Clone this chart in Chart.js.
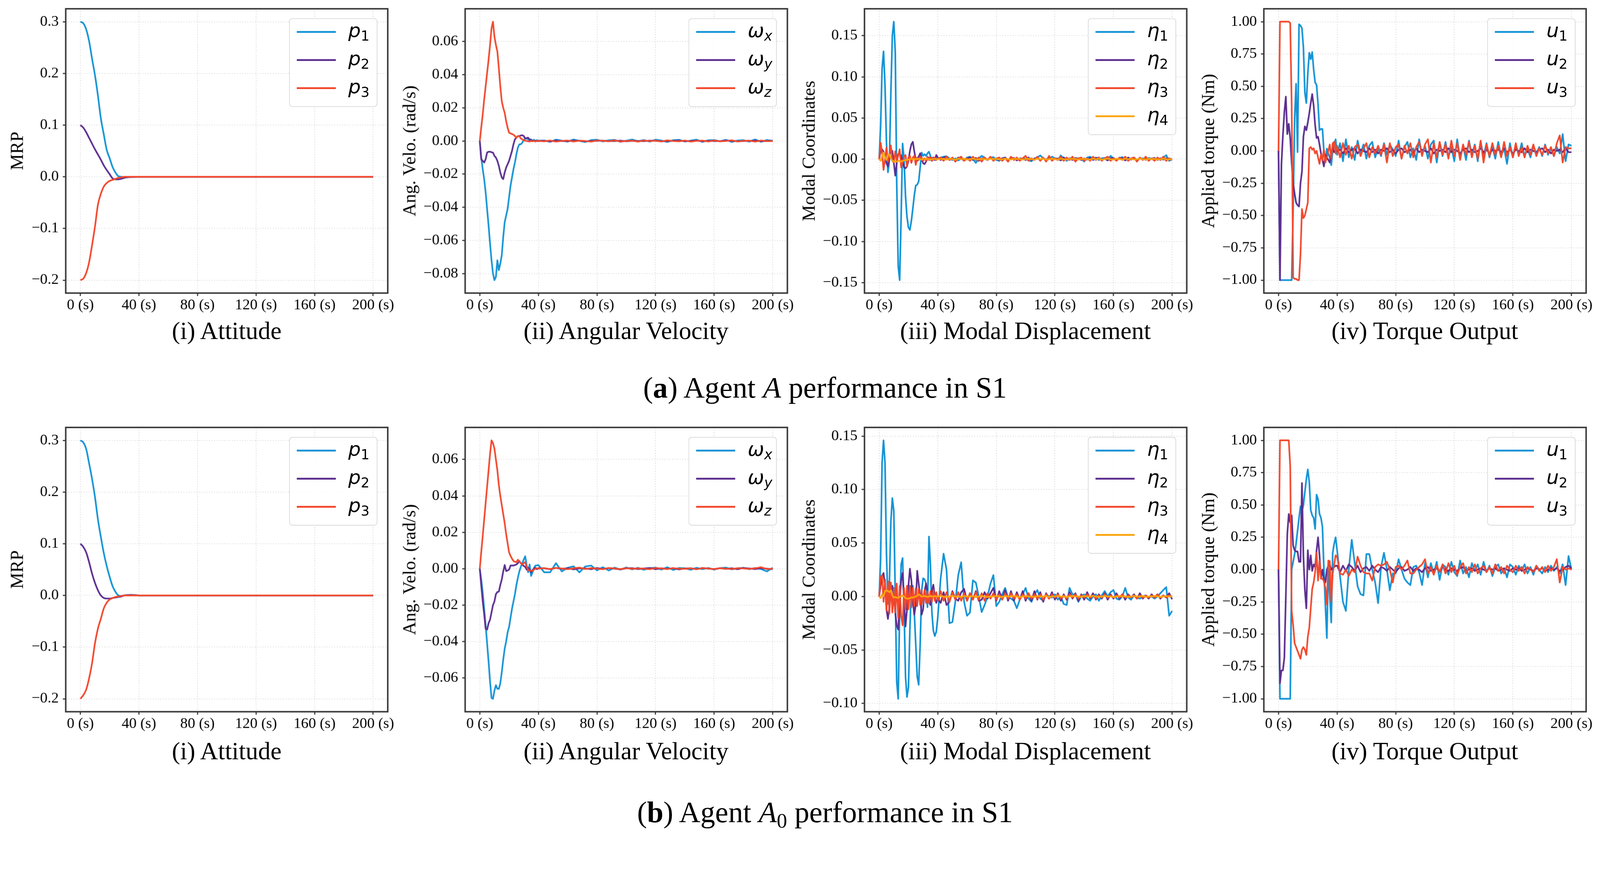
<!DOCTYPE html>
<html>
<head>
<meta charset="utf-8">
<script src="https://cdn.jsdelivr.net/npm/chart.js@4.4.0/dist/chart.umd.min.js"></script>
<style>
  html, body { margin: 0; background: #fff; overflow: hidden; }
  #wrap { position: relative; overflow: hidden; }
  #fig { position: absolute; left: 0; top: 0; width: 4383px; height: 2271px; overflow: hidden; font-family: 'Liberation Serif', serif; color: #000; transform-origin: 0 0; }
  #fig canvas { position: absolute; }
  .title { position: absolute; width: 1000px; text-align: center; font-size: 68px; line-height: 80px; white-space: nowrap; }
  .caption { position: absolute; width: 2000px; text-align: center; font-size: 81px; line-height: 98px; white-space: nowrap; }
  .caption sub { font-size: 0.7em; vertical-align: -0.25em; line-height: 0; }
  .legend { position: absolute; box-sizing: border-box; background: rgba(255,255,255,0.85); border: 2px solid #d9d9d9; border-radius: 9px; }
  .legend .sw { position: absolute; left: 19px; width: 107px; height: 5px; }
  .legend .lab { position: absolute; left: 160px; font-family: 'DejaVu Sans', sans-serif; font-size: 54px; line-height: 54px; white-space: nowrap; }
  .legend .lab i { font-style: oblique; }
  .legend sub { font-size: 0.7em; vertical-align: -0.26em; line-height: 0; }
</style>
</head>
<body>
<div id="wrap"><div id="fig"></div></div>
<script>
// time grids (s)
const T_SMOOTH = [0,2,4,6,8,10,12,14,16,18,20,22,24,26,28,30,35,40,50,60,80,100,150,200];
const T_VEL = [0,1,2,3,4,5,6,7,8,9,10,11,12,13,14,15,16,17,18,19,20,21,22,23,24,25,26,27,28,29,30,31,32,33,34,35,36,37,38,39,40,
  44,48,52,56,60,64,68,72,76,80,84,88,92,96,100,104,108,112,116,120,124,128,132,136,140,144,148,152,156,160,164,168,172,176,180,184,188,192,196,200];
const T_FLEX = [0,1,2,3,4,5,6,7,8,9,10,11,12,13,14,15,16,17,18,19,20,21,22,23,24,25,26,27,28,29,30,31,32,33,34,35,36,37,38,39,40,
  42,44,46,48,50,52,54,56,58,60,62,64,66,68,70,72,74,76,78,80,82,84,86,88,90,92,94,96,98,100,
  102,104,106,108,110,112,114,116,118,120,122,124,126,128,130,132,134,136,138,140,142,144,146,148,150,152,154,156,158,160,
  162,164,166,168,170,172,174,176,178,180,182,184,186,188,190,192,194,196,198,200];

const X_TICKS = [0, 40, 80, 120, 160, 200];
const MRP_TICKS = [-0.2, -0.1, 0, 0.1, 0.2, 0.3];
const A_VEL_TICKS = [-0.08, -0.06, -0.04, -0.02, 0, 0.02, 0.04, 0.06];
const B_VEL_TICKS = [-0.06, -0.04, -0.02, 0, 0.02, 0.04, 0.06];
const A_MODAL_TICKS = [-0.15, -0.10, -0.05, 0, 0.05, 0.10, 0.15];
const B_MODAL_TICKS = [-0.10, -0.05, 0, 0.05, 0.10, 0.15];
const TORQUE_TICKS = [-1, -0.75, -0.5, -0.25, 0, 0.25, 0.5, 0.75, 1];

const P_NAMES = [['p','1'], ['p','2'], ['p','3']];
const W_NAMES = [['ω','x'], ['ω','y'], ['ω','z']];
const ETA_NAMES = [['η','1'], ['η','2'], ['η','3'], ['η','4']];
const U_NAMES = [['u','1'], ['u','2'], ['u','3']];

// ---- (a) agent A ----
const aP1 = [0.3,0.297,0.285,0.262,0.228,0.196,0.157,0.113,0.082,0.052,0.036,0.019,0.008,0.001,0,-0.001,0,0,0,0,0,0,0,0];
const aP2 = [0.1,0.095,0.086,0.075,0.064,0.053,0.043,0.033,0.022,0.013,0.005,-0.003,-0.005,-0.005,-0.004,-0.002,-0.0005,0,0,0,0,0,0,0];
const aP3 = [-0.2,-0.197,-0.186,-0.165,-0.132,-0.096,-0.054,-0.033,-0.019,-0.012,-0.008,-0.006,-0.004,-0.002,-0.001,0,0,0,0,0,0,0,0,0];

const aWx = [0,-0.010,-0.017,-0.023,-0.031,-0.041,-0.051,-0.062,-0.072,-0.080,
  -0.084,-0.082,-0.072,-0.078,-0.074,-0.069,-0.058,-0.049,-0.045,-0.041,
  -0.034,-0.027,-0.022,-0.017,-0.013,-0.008,-0.004,-0.002,-0.002,-0.001,
  0.0005,0.0014,0.0015,0.001,0.0005,0.001,0,0.0008,-0.0003,0.0005,
  0.0002,
  0.0003,-0.0005,0.0008,0.0002,-0.0004,0.0009,0.0001,-0.0006,0.0005,0.0008,
  -0.0003,0.0004,0.0007,-0.0005,0.0002,0.0009,-0.0002,0.0006,-0.0004,0.0008,
  0.0003,-0.0006,0.0005,0.0007,-0.0003,0.0002,0.0008,-0.0005,0.0004,0.0006,
  -0.0002,0.0007,-0.0006,0.0003,0.0005,-0.0004,0.0009,-0.0005,0.0006,0.0001];
const aWy = [0,-0.011,-0.012,-0.013,-0.011,-0.007,-0.0065,-0.0065,-0.0068,-0.007,
  -0.009,-0.010,-0.012,-0.015,-0.019,-0.022,-0.023,-0.019,-0.016,-0.014,
  -0.012,-0.009,-0.006,-0.002,0.001,0.002,0.003,0.003,0.0033,0.0035,
  0.003,0.0015,0.0018,0.002,0.001,0.0005,0.0002,0,0.0002,0,
  0,
  0.0001,-0.0002,0.0002,0,-0.0001,0.0002,0.0001,-0.0002,0,0.0001,
  0.0002,-0.0001,0,0.0002,-0.0002,0.0001,0,-0.0001,0.0002,0.0001,
  -0.0002,0,0.0001,0.0002,-0.0001,0,0.0002,-0.0002,0.0001,0,
  -0.0001,0.0002,0.0001,-0.0002,0,0.0001,0.0002,-0.0001,0,0.0001];
const aWz = [0,0.008,0.016,0.025,0.033,0.041,0.049,0.058,0.068,0.072,
  0.063,0.058,0.054,0.044,0.033,0.024,0.020,0.017,0.012,0.008,
  0.005,0.0046,0.0042,0.0038,0.003,0.002,0.003,0.0028,0.0015,0.001,
  0.0005,0.0002,0,-0.0002,-0.0003,0,-0.0002,0.0001,-0.0003,0,
  0.0001,
  -0.0002,0.0003,-0.0004,0.0001,0.0003,-0.0003,0.0002,0,-0.0004,0.0003,
  0.0001,-0.0002,0.0004,-0.0003,0,0.0002,-0.0004,0.0003,-0.0001,0.0002,
  -0.0003,0.0004,0,-0.0002,0.0003,-0.0004,0.0001,0.0002,-0.0003,0.0003,
  -0.0002,0,0.0004,-0.0003,0.0001,0.0002,-0.0004,0.0003,-0.0001,0];

const aEta1 = [0,0.04,0.11,0.131,0.09,0.02,-0.016,-0.002,0.08,0.15,
  0.167,0.13,-0.03,-0.13,-0.147,-0.07,0.019,0.0,-0.045,-0.07,
  -0.083,-0.086,-0.075,-0.06,-0.044,-0.032,-0.031,-0.027,-0.01,0.008,
  0.004,0.006,0.004,0.007,0.009,0.004,-0.002,0,-0.001,0.001,
  0.001,
  0.002,0.003,0.0035,0.001,-0.001,0.001,-0.0015,0.0005,-0.001,0.002,
  0.003,0.0005,-0.0045,0.001,0.004,0.002,-0.001,0.0015,0.0025,-0.001,
  -0.002,0.001,0.0015,-0.001,0.002,-0.0005,0.001,-0.0015,0.001,0.0005,
  -0.0015,-0.0025,0.001,0.002,0.0045,0.001,-0.002,0.0005,0.003,0.001,
  -0.001,0.0045,0.001,-0.002,0.0005,0.002,-0.0015,0.001,0.0005,-0.003,
  0.002,0.003,0.0005,0.002,-0.001,0.001,0.0015,-0.0005,0.004,0.001,
  -0.001,0.0015,0.0025,0.0005,-0.0015,0.001,0.002,-0.001,0.0005,0.001,
  -0.001,0.0015,0.0005,-0.0005,0.001,-0.001,0.002,0.0048,-0.002,0.0003];
const aEta2 = [0,0.01,0.012,0.009,0.002,-0.005,-0.009,0.004,0.011,0.01,
  -0.004,-0.02,-0.005,0.006,0.007,0.004,-0.002,-0.01,-0.011,-0.009,
  -0.002,0.01,0.018,0.021,0.0096,-0.001,-0.002,0.003,0.007,0.001,
  -0.005,-0.006,-0.003,0.001,0.002,-0.001,0.001,0.002,-0.001,0.005,
  0.002,
  -0.001,0.002,0.003,-0.001,0.001,-0.002,0.002,0.0005,-0.0015,0.001,
  0.002,-0.001,0.0015,-0.002,0.001,0.0005,-0.001,0.002,-0.0005,0.001,
  -0.0015,0.001,0.002,-0.001,0.0005,0.0015,-0.0015,0.001,0.0005,-0.001,
  0.002,-0.001,0.0005,0.0015,-0.0015,0.001,-0.0005,0.002,-0.001,0.001,
  0.0005,-0.0015,0.002,-0.0005,0.001,-0.001,0.0015,0.0005,-0.001,0.001,
  -0.0005,0.0015,-0.001,0.001,0.002,-0.001,0.0005,-0.0015,0.001,0.0015,
  -0.001,0.0005,0.001,-0.0015,0.002,-0.0005,0.001,-0.001,0.0015,-0.0005,
  0.001,-0.001,0.0005,0.0015,-0.001,0.001,-0.0005,0.001,-0.001,-0.0005];
const aEta3 = [0,0.02,0.008,-0.013,0,0.014,-0.003,0.006,0.0167,-0.002,
  -0.004,0.0096,-0.002,0.004,0.012,-0.010,-0.004,0.003,0.005,-0.009,
  0.002,0.004,-0.0045,0.002,0.004,-0.007,0.002,-0.001,0.003,0.002,
  -0.002,0.001,-0.002,0.003,-0.001,0.002,-0.002,0.001,0.002,-0.001,
  0.001,
  0.002,-0.002,0.003,-0.001,0.002,-0.003,0.001,0.003,-0.002,0.001,
  -0.002,0.003,-0.001,0.002,-0.003,0.002,-0.001,0.003,-0.002,0.001,
  0.002,-0.002,0.001,-0.003,0.003,-0.001,0.002,-0.002,0.001,0.004,
  -0.002,0.001,-0.001,0.003,-0.002,0.002,-0.003,0.004,-0.002,0.001,
  -0.001,0.003,-0.002,0.002,-0.001,0.003,-0.003,0.001,0.002,-0.002,
  0.001,-0.002,0.003,-0.001,0.002,-0.002,0.001,0.003,-0.002,0.001,
  -0.002,0.002,-0.001,0.003,-0.002,0.001,0.002,-0.003,0.002,-0.001,
  0.003,-0.002,0.001,-0.002,0.002,-0.001,0.003,-0.002,0.001,0];
const aEta4 = [0,-0.002,0.004,0.008,0.002,-0.001,0.005,0.006,0.001,-0.002,
  -0.0025,-0.003,-0.003,-0.002,-0.0025,-0.003,-0.002,-0.0015,-0.001,-0.001,
  -0.0005,0,0.0005,0,-0.0005,0.0005,0,0.0005,0,-0.0005,
  0.0005,0,0,0.0005,0,-0.0005,0,0.0005,0,0,
  0,
  0,0.0005,-0.0005,0.0005,0,-0.0005,0.0005,0,0.0005,-0.0005,
  0,0.0005,0,-0.0005,0.0005,0,-0.0005,0.0005,0,0.0005,
  -0.0005,0,0.0005,0,-0.0005,0.0005,0,0.0005,-0.0005,0,
  0.0005,0,-0.0005,0.0005,0,0.0005,-0.0005,0,0.0005,0,
  -0.0005,0.0005,0,-0.0005,0.0005,0,0.0005,-0.0005,0,0.0005,
  0,-0.0005,0.0005,0,0.0005,-0.0005,0,0.0005,0,-0.0005,
  0.0005,0,-0.0005,0.0005,0,0.0005,-0.0005,0,0.0005,0,
  -0.0005,0.0005,0,0.0005,-0.0005,0,0.0005,0,-0.0005,0];

const aU1 = [0,-1,-1,-1,-1,-1,-1,-1,-1,-1,
  -0.45,0.25,0.52,-0.01,0.98,0.97,0.95,0.8,0.45,0.37,
  0.6,0.76,0.71,0.765,0.63,0.53,0.51,0.36,0.16,0.17,
  0.17,0.0,-0.07,0.018,-0.02,-0.05,-0.11,0.0,0.054,0.09,
  -0.03,
  0.06,-0.08,0.09,-0.05,0.03,-0.07,0.08,-0.02,0.05,-0.06,
  0.04,0.07,-0.05,0.02,-0.04,0.06,-0.03,0.05,0.01,-0.04,
  0.08,-0.06,0.03,0.07,-0.05,0.02,-0.07,0.09,-0.03,0.04,
  -0.06,0.05,0.08,-0.09,0.06,-0.04,0.07,-0.05,0.03,-0.08,
  0.09,-0.06,0.04,-0.07,0.08,-0.03,0.05,-0.08,0.07,-0.04,
  0.06,-0.05,0.03,-0.06,0.07,-0.04,0.02,-0.1,0.06,-0.05,
  0.04,-0.03,0.06,-0.04,0.02,-0.05,0.04,-0.02,0.03,-0.04,
  0.05,-0.03,0.02,-0.04,0.03,-0.02,0.13,-0.08,0.05,0.04];
const aU2 = [0,-1,-0.1,0.12,0.3,0.42,0.13,0.21,0.1,-0.1,
  -0.25,-0.33,-0.4,-0.42,-0.43,-0.25,-0.16,0.11,0.19,0.16,
  0.22,0.29,0.37,0.44,0.35,0.2,0.1,0.11,0.05,-0.02,
  -0.07,-0.12,-0.03,-0.05,-0.07,-0.09,-0.01,0.02,-0.01,0.01,
  0.0,
  0.01,-0.02,0.02,-0.01,0.01,0.02,-0.02,0.01,0,-0.01,
  0.02,-0.01,0.01,-0.02,0.01,0,0.02,-0.01,0.01,-0.02,
  0.01,0.02,-0.01,0,0.01,-0.02,0.02,-0.01,0.01,0,
  -0.01,0.02,-0.02,0.01,0,0.01,-0.01,0.02,-0.01,0.01,
  0,-0.02,0.01,0.02,-0.01,0.01,-0.01,0,0.02,-0.01,
  0.01,-0.02,0.01,0,0.01,-0.01,0.02,-0.01,0.01,-0.02,
  0.01,0,-0.01,0.02,-0.01,0.01,0,-0.01,0.01,0.02,
  -0.01,0.01,-0.02,0.01,0,0.01,-0.01,0.02,-0.01,-0.01];
const aU3 = [0,1,1,1,1,1,1,1,0.99,0.35,
  -0.98,-0.99,-0.99,-1,-1,-0.8,-0.45,-0.52,-0.5,-0.45,
  -0.4,0.02,0.03,0.01,0.02,-0.02,0,-0.05,-0.1,-0.03,
  -0.07,0.01,-0.09,-0.05,0,0.05,-0.06,0.06,0.07,-0.02,
  0.04,
  -0.05,0.06,-0.03,0.04,-0.06,0.03,0.05,-0.04,0.02,0.06,
  -0.05,0.03,-0.02,0.04,-0.03,0.05,-0.09,0.06,-0.04,0.03,
  0.05,-0.06,0.04,-0.02,0.06,-0.05,0.03,0.07,-0.04,0.05,
  0.09,-0.09,0.06,-0.05,0.07,-0.03,0.05,-0.06,0.08,-0.04,
  0.06,-0.07,0.05,-0.03,0.07,-0.05,0.04,-0.06,0.08,-0.09,
  0.05,-0.04,0.06,-0.03,0.04,-0.05,0.07,-0.04,0.03,-0.05,
  0.06,-0.04,0.03,-0.05,0.04,-0.03,0.05,-0.04,0.02,-0.03,
  0.04,-0.02,0.03,-0.04,0.06,0.12,-0.09,0.03,0.02,0.02];

// ---- (b) agent A0 ----
const bP1 = [0.3,0.296,0.283,0.255,0.225,0.19,0.147,0.113,0.082,0.057,0.036,0.018,0.007,0,-0.001,0,0.001,0,0,0,0,0,0,0];
const bP2 = [0.1,0.094,0.083,0.064,0.042,0.024,0.010,0.0,-0.005,-0.006,-0.006,-0.005,-0.004,-0.003,-0.002,0,0.001,0,0,0,0,0,0,0];
const bP3 = [-0.2,-0.193,-0.182,-0.16,-0.131,-0.092,-0.064,-0.045,-0.025,-0.014,-0.008,-0.005,-0.003,-0.002,-0.001,0,0,0,0,0,0,0,0,0];

const bWx = [0,-0.006,-0.013,-0.022,-0.031,-0.041,-0.051,-0.062,-0.071,-0.0715,
  -0.067,-0.064,-0.066,-0.066,-0.063,-0.057,-0.050,-0.044,-0.040,-0.035,
  -0.032,-0.027,-0.022,-0.018,-0.014,-0.009,-0.005,-0.0015,0.001,0.003,
  0.005,0.0068,0.002,-0.002,0.0023,-0.004,-0.002,0.0005,0.0017,0.0018,
  0.002,
  -0.002,-0.002,0.003,-0.0015,0.0005,0.0013,-0.002,0.0012,0.0017,-0.0009,
  0.0008,-0.001,0.0006,-0.0005,0.0007,-0.0004,0.0005,-0.0006,0.0003,0.0006,
  -0.0005,0.0008,-0.0007,0.0004,0.0002,-0.0006,0.0005,-0.0003,0.0004,-0.0005,
  0.0003,0.0006,-0.0004,0.0002,0.0005,-0.0003,0.0004,-0.0002,-0.0015,0.0005];
const bWy = [0,-0.009,-0.018,-0.025,-0.033,-0.0335,-0.030,-0.028,-0.024,-0.020,
  -0.018,-0.014,-0.0128,-0.0126,-0.009,-0.006,-0.0015,0.002,-0.0013,-0.001,
  -0.0005,0.0017,0.0017,0.0017,0.002,0.0023,0.003,0.0042,0.003,0.0023,
  0.0015,0.001,-0.0005,0.0005,-0.0005,-0.002,-0.0008,0,0.0005,-0.0003,
  0.0003,
  0.0002,-0.0003,0.0004,-0.0001,0.0003,-0.0004,0.0002,0.0001,-0.0003,0.0004,
  -0.0002,0.0003,0,-0.0004,0.0002,0.0003,-0.0002,0.0001,0.0004,-0.0003,
  0.0002,-0.0001,0.0003,-0.0004,0.0001,0.0002,-0.0003,0.0004,0,-0.0002,
  0.0003,-0.0001,0.0002,-0.0003,0.0004,0.0001,-0.0002,0.0003,0,-0.0003];
const bWz = [0,0.009,0.018,0.027,0.036,0.045,0.054,0.063,0.0705,0.069,
  0.066,0.060,0.054,0.046,0.040,0.035,0.030,0.025,0.019,0.014,
  0.009,0.007,0.0055,0.0042,0.0038,0.0036,0.0049,0.004,0.003,0.0023,
  0.003,0.0036,0.001,-0.0005,-0.0013,-0.001,-0.0012,-0.0005,0,0.0002,
  0,
  0.0003,-0.0002,0.0004,0.0001,-0.0003,0.0002,0.0006,-0.0002,0.0003,0,
  -0.0003,0.0004,0.0001,-0.0002,0.0003,-0.0001,0.0002,0,-0.0003,0.0004,
  0.0001,-0.0002,0.0003,0,-0.0001,0.0002,-0.0003,0.0003,0.0001,-0.0002,
  0.0002,0,-0.0002,0.0003,0.0001,-0.0001,0.0002,0.0008,-0.0002,0];

const bEta1 = [0,0.035,0.125,0.146,0.125,0.04,-0.007,0.012,0.07,0.092,
  0.08,0.0,-0.08,-0.0957,-0.013,0.03,0.036,-0.01,-0.075,-0.094,
  -0.085,-0.03,0.01,0.01,-0.015,-0.045,-0.075,-0.0826,-0.045,0.005,
  0.017,0.016,0.012,-0.01,0.056,0.03,-0.015,-0.032,-0.037,-0.033,
  -0.02,
  0.017,0.04,0.025,-0.025,-0.024,-0.005,0.02,0.032,-0.005,-0.018,
  -0.015,0.015,0.013,0.0,-0.0146,-0.008,0.0,0.012,0.02,-0.009,
  -0.005,0.002,0.008,-0.001,-0.002,-0.004,-0.011,-0.003,0.002,0.008,
  -0.002,-0.005,0.002,0.006,-0.002,-0.004,0.002,0.0,-0.001,0.002,
  -0.003,0.0,-0.007,-0.008,0.008,0.002,0.002,-0.005,0.0,0.002,
  -0.002,-0.004,0.0,0.002,-0.004,0.001,0.005,0.0,0.004,0.006,
  -0.002,-0.003,0.0,0.008,-0.001,-0.003,0.001,-0.001,-0.002,0.0,
  0.001,-0.001,0.0,-0.002,0.0,0.003,0.006,0.0087,-0.018,-0.0135];
const bEta2 = [0,0.01,0.019,0.022,0.01,-0.012,-0.021,-0.01,0.005,0.01,
  0.0,-0.015,-0.027,-0.031,-0.005,0.015,0.022,-0.005,-0.028,-0.012,
  0.01,0.026,0.015,-0.005,-0.017,-0.008,0.024,0.012,0.0,-0.017,
  -0.012,0.005,0.012,0.005,-0.005,-0.008,0.005,0.011,0.0,-0.006,
  -0.002,
  -0.006,0.004,-0.008,-0.005,0.005,-0.002,-0.004,0.004,0.007,-0.004,
  0.003,-0.003,0.005,-0.004,-0.003,0.004,-0.002,0.003,0.008,-0.004,
  0.005,-0.003,0.006,-0.004,0.005,-0.004,0.004,-0.003,0.005,-0.004,
  0.003,-0.004,0.005,-0.003,0.004,-0.005,0.003,-0.002,0.004,-0.003,
  0.003,-0.004,0.002,-0.003,0.004,-0.002,0.003,-0.004,0.002,-0.003,
  0.004,-0.002,0.003,-0.003,0.002,-0.002,0.003,-0.003,0.002,-0.002,
  0.003,-0.002,0.002,-0.003,0.002,-0.001,0.002,-0.002,0.003,-0.002,
  0.001,-0.002,0.002,-0.001,0.002,-0.002,0.001,-0.001,0.003,-0.0026];
const bEta3 = [0,0.018,0.02,-0.005,0.016,-0.013,0.014,-0.016,0.013,-0.015,
  0.008,-0.015,0.012,-0.02,0.01,-0.018,-0.027,0.008,-0.012,0.01,
  -0.012,0.01,-0.01,0.008,-0.009,0.008,-0.009,0.007,-0.008,0.006,
  -0.007,0.006,-0.006,0.005,-0.006,0.005,-0.005,0.006,-0.004,0.004,
  -0.004,
  0.005,-0.004,0.004,-0.005,0.004,-0.003,0.004,-0.004,0.003,-0.004,
  0.003,-0.003,0.004,-0.003,0.003,-0.004,0.003,-0.002,0.003,-0.003,
  0.002,-0.003,0.003,-0.002,0.003,-0.002,0.002,-0.003,0.002,-0.002,
  0.003,-0.002,0.002,-0.002,0.002,-0.003,0.002,-0.002,0.002,-0.001,
  0.002,-0.002,0.001,-0.002,0.002,-0.001,0.002,-0.002,0.001,-0.001,
  0.002,-0.001,0.001,-0.002,0.001,-0.001,0.002,-0.001,0.001,-0.001,
  0.001,-0.001,0.002,-0.001,0.001,-0.001,0.001,-0.002,0.001,-0.001,
  0.001,-0.001,0.001,-0.001,0.002,-0.001,0.001,-0.001,0.001,0];
const bEta4 = [0,-0.0015,0.002,0.0,0.005,0.006,0.005,0.004,0.0057,0.001,
  -0.001,-0.0005,-0.001,-0.0015,0.0,0.0,0.001,0.0,-0.0015,-0.002,
  -0.002,-0.0015,-0.001,-0.001,-0.0005,0.0,0.0005,0.002,0.001,0.0,
  0.0,0.0005,0.0,-0.0005,0.0,0.0005,0.0,0.0,0.0005,0.0,
  0.0,
  0.0005,0,-0.0005,0,0.0005,0,0,-0.0005,0.0005,0,
  0,0.0005,-0.0005,0,0.0005,0,-0.0005,0,0,0.0005,
  0,-0.0005,0.0005,0,0,0.0005,0,-0.0005,0,0.0005,
  0,0,-0.0005,0.0005,0,0,0.0005,-0.0005,0,0,
  0.0005,0,0,-0.0005,0,0.0005,0,0,-0.0005,0.0005,
  0,0,0.0005,0,-0.0005,0,0.0005,0,0,-0.0005,
  0,0.0005,0,0,-0.0005,0,0.0005,0,0,0.0005,
  -0.0005,0,0,0.0005,0,-0.0005,0,0.0005,0,0];

const bU1 = [0,-1,-1,-1,-1,-1,-1,-1,-1,0.0,
  0.06,0.12,0.2,0.3,0.4,0.49,0.45,0.5,0.6,0.7,
  0.775,0.68,0.46,0.42,0.4,0.315,0.58,0.545,0.43,0.4,
  0.33,0.005,-0.28,-0.53,0.04,-0.21,-0.41,0.13,0.2,0.25,
  0.15,
  -0.05,-0.25,-0.32,0.0,0.23,0.05,-0.13,-0.19,-0.2,0.12,
  0.12,0.0,-0.1,-0.26,0.02,0.13,0.0,-0.16,-0.03,-0.03,
  0.08,0.0,-0.07,-0.1,-0.12,0.02,0.03,-0.02,-0.12,0.05,
  -0.06,0.05,-0.03,0.06,-0.08,0.04,0.02,-0.04,0.06,-0.02,
  -0.05,0.07,-0.03,0.02,-0.06,0.05,-0.01,0.04,-0.04,0.06,
  -0.02,0.03,-0.05,0.02,0.04,-0.03,0.01,-0.06,0.04,0.02,
  -0.04,0.03,-0.01,0.04,-0.03,0.02,-0.04,0.03,0.0,-0.03,
  0.02,-0.02,0.03,-0.01,0.02,-0.03,0.04,-0.12,0.105,0.0];
const bU2 = [0,-0.88,-0.78,-0.78,-0.68,-0.21,0.275,0.43,0.365,0.42,
  0.185,0.15,0.14,0.14,0.06,0.06,0.67,0.1,-0.16,-0.3,
  0.15,0.0,0.11,-0.01,0.04,0.02,0.15,0.25,0.11,-0.07,
  0.0,-0.08,-0.1,0.0,0.03,0.04,0.0,0.01,0.02,0.03,
  0.03,
  -0.02,0.03,-0.01,0.04,0.02,-0.01,0.03,-0.02,0.01,0.02,
  -0.01,0.03,0.0,-0.02,0.02,0.01,-0.01,0.02,0.0,-0.02,
  0.01,0.02,-0.01,0.0,0.02,-0.01,0.01,0.0,-0.02,0.01,
  0.02,-0.01,0.0,0.01,-0.01,0.02,0.0,-0.01,0.01,0.0,
  -0.01,0.01,0.02,-0.01,0.0,0.01,-0.01,0.0,0.01,0.0,
  -0.01,0.01,0.0,0.01,-0.01,0.0,0.01,0.0,-0.01,0.01,
  0.0,0.01,-0.01,0.0,0.01,0.0,-0.01,0.01,0.0,0.01,
  -0.01,0.0,0.01,0.0,0.01,-0.01,0.0,0.02,0.03,0.01];
const bU3 = [0,1,1,1,1,1,1,1,0.8,-0.32,
  -0.43,-0.57,-0.6,-0.63,-0.66,-0.69,-0.62,-0.6,-0.62,-0.66,
  -0.52,-0.45,-0.3,-0.15,-0.1,-0.02,0.13,-0.085,0.07,-0.07,
  -0.07,-0.09,-0.14,-0.27,0.07,0.065,-0.25,-0.03,0.04,0.11,
  0.1,
  -0.03,-0.04,0.0,-0.05,0.0,-0.02,0.1,0.03,-0.02,-0.03,
  -0.03,-0.085,0.02,0.04,0.03,0.04,0.06,0.0,-0.1,0.02,
  0.03,0.0,0.03,0.07,-0.03,-0.03,0.0,0.02,0.04,0.08,
  -0.03,0.02,-0.04,0.03,-0.02,0.04,-0.03,0.05,-0.02,0.03,
  -0.04,0.02,0.05,-0.03,0.02,-0.02,0.04,-0.03,0.01,0.03,
  -0.02,0.02,-0.03,0.04,-0.01,0.02,-0.03,0.03,0.0,-0.02,
  0.03,-0.01,0.02,-0.03,0.02,0.0,-0.02,0.03,-0.01,0.02,
  -0.02,0.03,-0.01,0.02,0.08,-0.1,0.02,0.0,0.01,0.0];

const COLORS = ['#1393d5', '#5b2d8f', '#f2472b', '#fca40c'];

// layout of the axes frames, in figure pixels (figure is 4383 x 2271)
const FIG_W = 4383, FIG_H = 2271;
const FRAME_LEFT = [180, 1274, 2368, 3462];
const FRAME_TOP = [24, 1171];
const FRAME_W = 882;
const FRAME_H = 778;
const YAXIS_W = [160, 179, 179, 179];

const panels = [
  {row: 0, col: 0, t: T_SMOOTH, series: [aP1, aP2, aP3], names: P_NAMES, yTicks: MRP_TICKS, dec: 1, ylabel: 'MRP', title: '(i) Attitude', smooth: true},
  {row: 0, col: 1, t: T_VEL, series: [aWx, aWy, aWz], names: W_NAMES, yTicks: A_VEL_TICKS, dec: 2, ylabel: 'Ang. Velo. (rad/s)', title: '(ii) Angular Velocity'},
  {row: 0, col: 2, t: T_FLEX, series: [aEta1, aEta2, aEta3, aEta4], names: ETA_NAMES, yTicks: A_MODAL_TICKS, dec: 2, ylabel: 'Modal Coordinates', title: '(iii) Modal Displacement'},
  {row: 0, col: 3, t: T_FLEX, series: [aU1, aU2, aU3], names: U_NAMES, yTicks: TORQUE_TICKS, dec: 2, ylabel: 'Applied torque (Nm)', title: '(iv) Torque Output'},
  {row: 1, col: 0, t: T_SMOOTH, series: [bP1, bP2, bP3], names: P_NAMES, yTicks: MRP_TICKS, dec: 1, ylabel: 'MRP', title: '(i) Attitude', smooth: true},
  {row: 1, col: 1, t: T_VEL, series: [bWx, bWy, bWz], names: W_NAMES, yTicks: B_VEL_TICKS, dec: 2, ylabel: 'Ang. Velo. (rad/s)', title: '(ii) Angular Velocity'},
  {row: 1, col: 2, t: T_FLEX, series: [bEta1, bEta2, bEta3, bEta4], names: ETA_NAMES, yTicks: B_MODAL_TICKS, dec: 2, ylabel: 'Modal Coordinates', title: '(iii) Modal Displacement'},
  {row: 1, col: 3, t: T_FLEX, series: [bU1, bU2, bU3], names: U_NAMES, yTicks: TORQUE_TICKS, dec: 2, ylabel: 'Applied torque (Nm)', title: '(iv) Torque Output'}
];

const captions = [
  {cy: 1062, html: '(<b>a</b>) Agent <i>A</i> performance in S1'},
  {cy: 2226, html: '(<b>b</b>) Agent <i>A</i><sub>0</sub> performance in S1'}
];

// fit the whole figure into the viewport width
const wrap = document.getElementById('wrap');
const fig = document.getElementById('fig');
const S = (window.innerWidth || FIG_W) / FIG_W;
fig.style.transform = 'scale(' + S + ')';
wrap.style.width = (FIG_W * S) + 'px';
wrap.style.height = (FIG_H * S) + 'px';
const DPR = S * (window.devicePixelRatio || 1);

const TICK_FONT = {family: 'Liberation Serif', size: 41};

const frameBox = {
  id: 'frameBox',
  afterDraw(chart) {
    const {ctx, chartArea: a} = chart;
    ctx.save();
    ctx.strokeStyle = '#333';
    ctx.lineWidth = 4;
    ctx.strokeRect(a.left, a.top, a.right - a.left, a.bottom - a.top);
    ctx.restore();
  }
};

function fmtTick(v, dec) {
  const s = Math.abs(v).toFixed(dec);
  return v < -1e-12 ? '\u2212' + s : s;
}

function buildPanel(p) {
  p.series.forEach((s, i) => {
    if (s.length !== p.t.length) console.warn('length mismatch', p.title, i, s.length, p.t.length);
  });
  const fl = FRAME_LEFT[p.col], ft = FRAME_TOP[p.row], yw = YAXIS_W[p.col];
  const w = yw + FRAME_W + 40, h = 24 + FRAME_H + 70;
  const cvLeft = fl - yw, cvTop = ft - 24;
  const cv = document.createElement('canvas');
  cv.style.left = cvLeft + 'px';
  cv.style.top = cvTop + 'px';
  cv.style.width = w + 'px';
  cv.style.height = h + 'px';
  cv.width = w; cv.height = h;
  fig.appendChild(cv);

  // matplotlib-like autoscale: data range plus 5% margins
  let lo = Infinity, hi = -Infinity;
  p.series.forEach(s => s.forEach(v => { lo = Math.min(lo, v); hi = Math.max(hi, v); }));
  const m = (hi - lo) * 0.05;

  const n = p.series.length;
  const datasets = p.series.map((s, i) => ({
    label: p.names[i].join(''),
    data: s.map((v, k) => ({x: p.t[k], y: v})),
    borderColor: COLORS[i],
    backgroundColor: COLORS[i],
    borderWidth: 4.5,
    pointRadius: 0,
    fill: false,
    tension: 0,
    cubicInterpolationMode: p.smooth ? 'monotone' : 'default',
    borderJoinStyle: 'round',
    order: n - i
  }));

  const chart = new Chart(cv, {
    type: 'line',
    data: {datasets},
    options: {
      responsive: false,
      animation: false,
      devicePixelRatio: DPR,
      layout: {padding: {top: 24, right: 40, bottom: 0, left: 0}},
      plugins: {legend: {display: false}, tooltip: {enabled: false}},
      scales: {
        x: {
          type: 'linear', min: -10, max: 210, bounds: 'data',
          afterBuildTicks: s => { s.ticks = X_TICKS.map(v => ({value: v})); },
          afterFit: s => { s.height = 70; s.paddingLeft = 0; s.paddingRight = 0; },
          ticks: {autoSkip: false, maxRotation: 0, minRotation: 0, padding: 1, color: '#000', font: TICK_FONT,
                  callback: v => v + ' (s)'},
          grid: {color: '#cfcfcf', lineWidth: 2, tickLength: 8, tickColor: '#333', tickWidth: 3},
          border: {display: false, dash: [2, 5]}
        },
        y: {
          type: 'linear', min: lo - m, max: hi + m, bounds: 'data',
          afterBuildTicks: s => { s.ticks = p.yTicks.map(v => ({value: v})); },
          afterFit: s => { s.width = yw; s.paddingTop = 0; s.paddingBottom = 0; },
          ticks: {autoSkip: false, padding: 11, color: '#000', font: TICK_FONT,
                  callback: v => fmtTick(v, p.dec)},
          grid: {color: '#cfcfcf', lineWidth: 2, tickLength: 8, tickColor: '#333', tickWidth: 3},
          border: {display: false, dash: [2, 5]},
          title: {display: true, text: p.ylabel, color: '#000', padding: 0,
                  font: {family: 'Liberation Serif', size: 50}}
        }
      }
    },
    plugins: [frameBox]
  });

  const a = chart.chartArea;
  const frameRight = cvLeft + a.right, frameTop = cvTop + a.top;

  // legend box in the upper right corner of the axes
  const lg = document.createElement('div');
  lg.className = 'legend';
  const lw = 242, lh = 37 + (n - 1) * 77 + 52;
  lg.style.left = (frameRight - 28 - lw) + 'px';
  lg.style.top = (frameTop + 26) + 'px';
  lg.style.width = lw + 'px';
  lg.style.height = lh + 'px';
  datasets.forEach((ds, i) => {
    const y = 35 + i * 77;
    const sw = document.createElement('div');
    sw.className = 'sw';
    sw.style.top = (y - 2.5) + 'px';
    sw.style.background = ds.borderColor;
    const lab = document.createElement('div');
    lab.className = 'lab';
    lab.style.top = (y - 30) + 'px';
    const [base, sub] = p.names[i];
    const subHtml = /\d/.test(sub) ? sub : '<i>' + sub + '</i>';
    lab.innerHTML = '<i>' + base + '</i><sub>' + subHtml + '</sub>';
    lg.appendChild(sw);
    lg.appendChild(lab);
  });
  fig.appendChild(lg);

  // subplot title under the axes
  const tt = document.createElement('div');
  tt.className = 'title';
  tt.textContent = p.title;
  tt.style.left = (cvLeft + (a.left + a.right) / 2 - 500) + 'px';
  tt.style.top = (p.row === 0 ? 866 : 2017) + 'px';
  fig.appendChild(tt);
}

panels.forEach(buildPanel);

captions.forEach(c => {
  const d = document.createElement('div');
  d.className = 'caption';
  d.style.left = (2260 - 1000) + 'px';
  d.style.top = (c.cy - 49) + 'px';
  d.innerHTML = c.html;
  fig.appendChild(d);
});
</script>
</body>
</html>
